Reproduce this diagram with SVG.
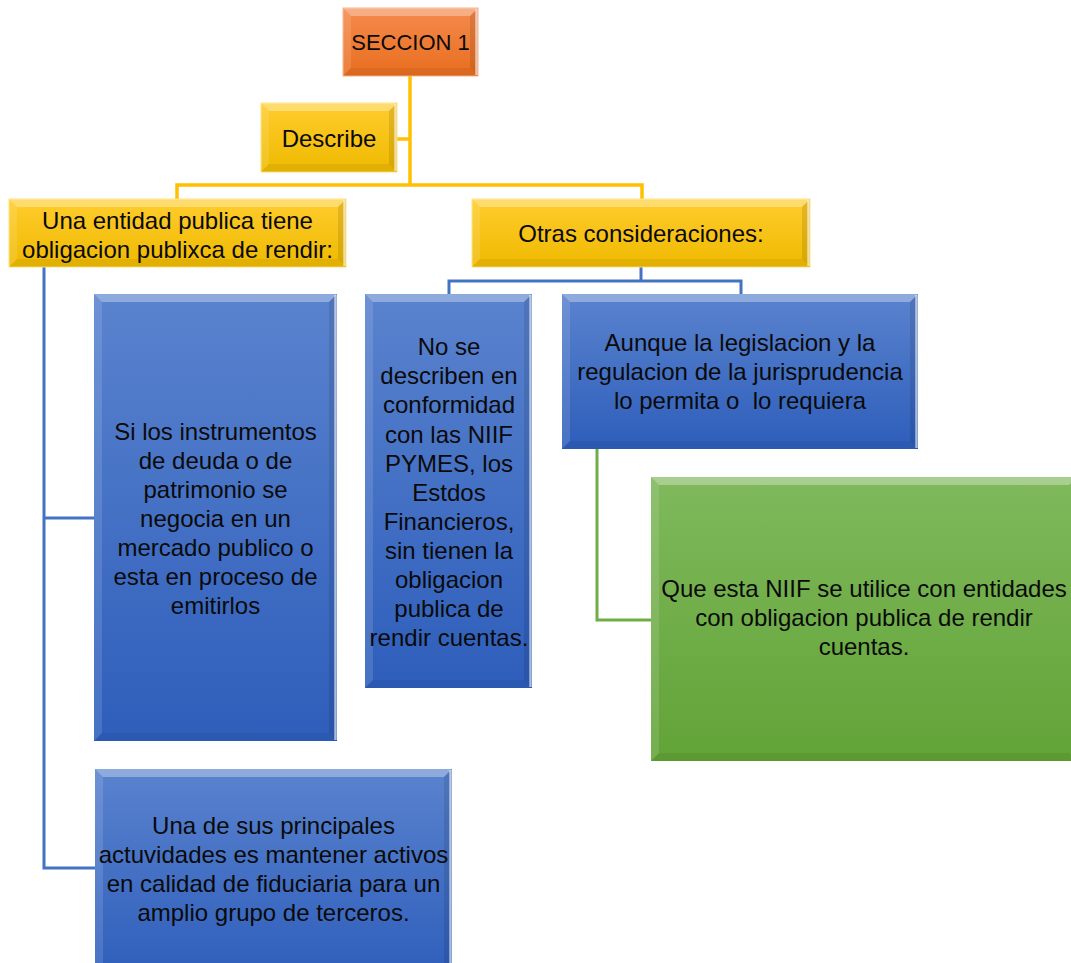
<svg xmlns="http://www.w3.org/2000/svg" width="1071" height="963" viewBox="0 0 1071 963">
<defs>
<linearGradient id="gOrange" x1="0" y1="0" x2="0" y2="1"><stop offset="0" stop-color="#F58A4E"/><stop offset="1" stop-color="#E86E1E"/></linearGradient>
<linearGradient id="gYellow" x1="0" y1="0" x2="0" y2="1"><stop offset="0" stop-color="#FFCC2E"/><stop offset="1" stop-color="#EFBA00"/></linearGradient>
<linearGradient id="gBlue" x1="0" y1="0" x2="0" y2="1"><stop offset="0" stop-color="#5A83CE"/><stop offset="1" stop-color="#2E5EBB"/></linearGradient>
<linearGradient id="gGreen" x1="0" y1="0" x2="0" y2="1"><stop offset="0" stop-color="#7FB95C"/><stop offset="1" stop-color="#62A337"/></linearGradient>
</defs>
<style>
text{font-family:"Liberation Sans",Arial,sans-serif;font-size:24px;fill:#0a0a0a;text-anchor:middle;white-space:pre}
.conn{fill:none;stroke-width:3}
.cy{stroke:#FFC000;stroke-width:3.5}
.cb{stroke:#4472C4}
.cg{stroke:#70AD47}
.bt{fill:#fff;fill-opacity:.32}
.bl{fill:#fff;fill-opacity:.12}
.br{fill:#000;fill-opacity:.10}
.bb{fill:#000;fill-opacity:.06}
.hl{stroke:#fff;stroke-opacity:.6;stroke-width:2.5}
</style>

<g id="connectors" class="conn">
<path class="cy" d="M410,76 V185 M397,139 H410 M177,199 V185 H642 V199"/>
<path class="cb" d="M44,267 V868 H95 M44,518 H94"/>
<path class="cb" d="M641,267 V281 M449,294 V281 H741 V294"/>
<path class="cg" d="M597,449 V620 H651"/>
</g>

<g id="seccion1">
<rect x="343" y="8" width="135" height="68" fill="url(#gOrange)" stroke="#F8B48A" stroke-width="1"/>
<path class="bt" d="M343,8 H478 L470,16 H351 Z"/>
<path class="bl" d="M343,8 L351,16 V68 L343,76 Z"/>
<path class="br" d="M478,8 V76 L470,68 V16 Z"/>
<path class="bb" d="M343,76 H478 L470,68 H351 Z"/>
<line class="hl" x1="476.5" y1="9" x2="476.5" y2="75"/>
<text x="410.5" y="50" style="font-size:22px">SECCION 1</text>
</g>

<g id="describe">
<rect x="261" y="103" width="136" height="69" fill="url(#gYellow)" stroke="#FFE27A" stroke-width="1"/>
<path class="bt" d="M261,103 H397 L389,111 H269 Z"/>
<path class="bl" d="M261,103 L269,111 V164 L261,172 Z"/>
<path class="br" d="M397,103 V172 L389,164 V111 Z"/>
<path class="bb" d="M261,172 H397 L389,164 H269 Z"/>
<line class="hl" x1="395.5" y1="104" x2="395.5" y2="171"/>
<text x="329" y="146.5">Describe</text>
</g>

<g id="entidad">
<rect x="9" y="199" width="337" height="68" fill="url(#gYellow)" stroke="#FFE27A" stroke-width="1"/>
<path class="bt" d="M9,199 H346 L338,207 H17 Z"/>
<path class="bl" d="M9,199 L17,207 V259 L9,267 Z"/>
<path class="br" d="M346,199 V267 L338,259 V207 Z"/>
<path class="bb" d="M9,267 H346 L338,259 H17 Z"/>
<line class="hl" x1="344.5" y1="200" x2="344.5" y2="266"/>
<text x="177.5" y="229">Una entidad publica tiene</text>
<text x="177.5" y="257.5">obligacion publixca de rendir:</text>
</g>

<g id="otras">
<rect x="472" y="199" width="338" height="68" fill="url(#gYellow)" stroke="#FFE27A" stroke-width="1"/>
<path class="bt" d="M472,199 H810 L802,207 H480 Z"/>
<path class="bl" d="M472,199 L480,207 V259 L472,267 Z"/>
<path class="br" d="M810,199 V267 L802,259 V207 Z"/>
<path class="bb" d="M472,267 H810 L802,259 H480 Z"/>
<line class="hl" x1="808.5" y1="200" x2="808.5" y2="266"/>
<text x="641" y="242">Otras consideraciones:</text>
</g>

<g id="instrumentos">
<rect x="94" y="294" width="243" height="447" fill="url(#gBlue)"/>
<path class="bt" d="M94,294 H337 L329,302 H102 Z"/>
<path class="bl" d="M94,294 L102,302 V733 L94,741 Z"/>
<path class="br" d="M337,294 V741 L329,733 V302 Z"/>
<path class="bb" d="M94,741 H337 L329,733 H102 Z"/>
<line class="hl" x1="335.5" y1="295" x2="335.5" y2="740"/>
<text x="215.5" y="440">Si los instrumentos</text>
<text x="215.5" y="469">de deuda o de</text>
<text x="215.5" y="498">patrimonio se</text>
<text x="215.5" y="527">negocia en un</text>
<text x="215.5" y="556">mercado publico o</text>
<text x="215.5" y="585">esta en proceso de</text>
<text x="215.5" y="614">emitirlos</text>
</g>

<g id="noSeDescriben">
<rect x="365" y="294" width="167" height="394" fill="url(#gBlue)"/>
<path class="bt" d="M365,294 H532 L524,302 H373 Z"/>
<path class="bl" d="M365,294 L373,302 V680 L365,688 Z"/>
<path class="br" d="M532,294 V688 L524,680 V302 Z"/>
<path class="bb" d="M365,688 H532 L524,680 H373 Z"/>
<line class="hl" x1="530.5" y1="295" x2="530.5" y2="687"/>
<text x="449" y="355">No se</text>
<text x="449" y="384">describen en</text>
<text x="449" y="413">conformidad</text>
<text x="449" y="442.5">con las NIIF</text>
<text x="449" y="471.5">PYMES, los</text>
<text x="449" y="500.5">Estdos</text>
<text x="449" y="529.5">Financieros,</text>
<text x="449" y="559">sin tienen la</text>
<text x="449" y="588">obligacion</text>
<text x="449" y="617">publica de</text>
<text x="449" y="646">rendir cuentas.</text>
</g>

<g id="aunque">
<rect x="562" y="294" width="356" height="155" fill="url(#gBlue)"/>
<path class="bt" d="M562,294 H918 L910,302 H570 Z"/>
<path class="bl" d="M562,294 L570,302 V441 L562,449 Z"/>
<path class="br" d="M918,294 V449 L910,441 V302 Z"/>
<path class="bb" d="M562,449 H918 L910,441 H570 Z"/>
<line class="hl" x1="916.5" y1="295" x2="916.5" y2="448"/>
<text x="740" y="351">Aunque la legislacion y la</text>
<text x="740" y="380">regulacion de la jurisprudencia</text>
<text x="740" y="409">lo permita o  lo requiera</text>
</g>

<g id="queEsta">
<rect x="651" y="477" width="426" height="284" fill="url(#gGreen)"/>
<path class="bt" d="M651,477 H1077 L1069,485 H659 Z"/>
<path class="bl" d="M651,477 L659,485 V753 L651,761 Z"/>
<path class="bb" d="M651,761 H1077 L1069,753 H659 Z"/>
<text x="864" y="597">Que esta NIIF se utilice con entidades</text>
<text x="864" y="626">con obligacion publica de rendir</text>
<text x="864" y="655">cuentas.</text>
</g>

<g id="fiduciaria">
<rect x="95" y="769" width="357" height="210" fill="url(#gBlue)"/>
<path class="bt" d="M95,769 H452 L444,777 H103 Z"/>
<path class="bl" d="M95,769 L103,777 V979 L95,979 Z"/>
<path class="br" d="M452,769 V979 L444,979 V777 Z"/>
<line class="hl" x1="450.5" y1="770" x2="450.5" y2="963"/>
<text x="273.5" y="834">Una de sus principales</text>
<text x="273.5" y="863">actuvidades es mantener activos</text>
<text x="273.5" y="892">en calidad de fiduciaria para un</text>
<text x="273.5" y="920.5">amplio grupo de terceros.</text>
</g>
</svg>
